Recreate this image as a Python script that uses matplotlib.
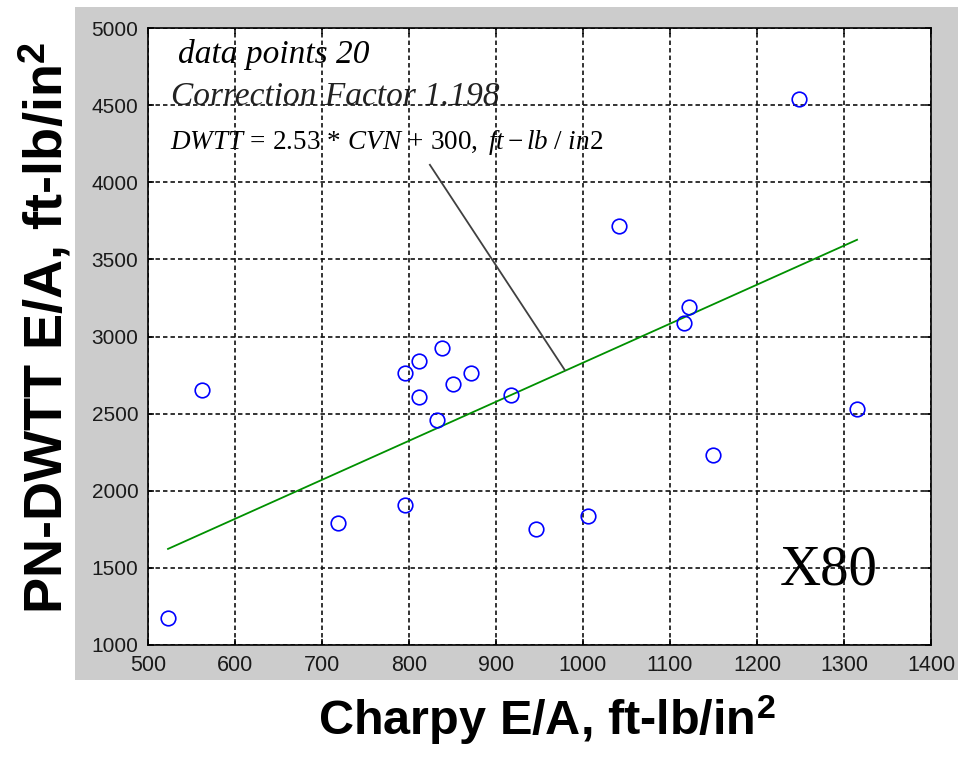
import matplotlib
matplotlib.use("Agg")
import matplotlib.pyplot as plt
from matplotlib.patches import Rectangle

# ---- data ----
charpy = [523, 562, 718, 795, 795, 811, 811, 832, 838, 850,
          871, 917, 946, 1006, 1041, 1116, 1122, 1149, 1248, 1315]
dwtt = [1173, 2654, 1789, 1906, 2762, 2840, 2608, 2459, 2924, 2691,
        2762, 2621, 1754, 1837, 3719, 3086, 3194, 2232, 4539, 2528]

fit_x = [523, 1315]
fit_y = [1623, 3627]

pointer_x = [824, 979]
pointer_y = [4113, 2783]

x_ticks = [500, 600, 700, 800, 900, 1000, 1100, 1200, 1300, 1400]
y_ticks = [1000, 1500, 2000, 2500, 3000, 3500, 4000, 4500, 5000]

text_points = "data points 20"
text_factor = "Correction Factor 1.198"
text_eq = r"$DWTT\,=\,2.53\,*\,CVN\,+\,300,\ ft-lb\ /\ \mathit{in2}$"
text_grade = "X80"
xlabel = r"Charpy E/A, ft-lb/in$^\mathbf{2}$"
ylabel = r"PN-DWTT E/A, ft-lb/in$^\mathbf{2}$"

# ---- style ----
plt.rcParams['mathtext.fontset'] = 'custom'
plt.rcParams['mathtext.rm'] = 'Liberation Serif'
plt.rcParams['mathtext.it'] = 'Liberation Serif:italic'
plt.rcParams['mathtext.bf'] = 'Liberation Sans:bold'
plt.rcParams['lines.scale_dashes'] = False

W, H = 958, 758
fig = plt.figure(figsize=(W / 100, H / 100), dpi=100)
fig.patch.set_facecolor('white')

# grey MATLAB-like panel
fig.patches.append(Rectangle((75 / W, 1 - 680 / H), (958 - 75) / W, (680 - 7) / H,
                             transform=fig.transFigure, facecolor='#cccccc',
                             edgecolor='none', zorder=-5))

ax = fig.add_axes([148 / W, 1 - 645 / H, (931 - 148) / W, (645 - 28) / H])
ax.set_zorder(2)
ax.set_facecolor('white')
ax.set_xlim(500, 1400)
ax.set_ylim(1000, 5000)
ax.set_xticks(x_ticks)
ax.set_yticks(y_ticks)
ax.set_axisbelow('line')
ax.grid(True, color='#111111', linestyle=(0, (3.2, 2.2)), linewidth=1.2)
for s in ax.spines.values():
    s.set_color('black')
    s.set_linewidth(1.2)
ax.tick_params(direction='in', length=4.5, width=1.1, top=True, right=True,
               labelsize=15, colors='black', pad=7)
for lab in ax.get_xticklabels() + ax.get_yticklabels():
    lab.set_fontfamily('Liberation Sans')
    lab.set_color('#1a1a1a')
for lab in ax.get_xticklabels():
    lab.set_fontsize(15.5)

ax.plot(fit_x, fit_y, color='#009000', linewidth=1.3, zorder=2)
ax.plot(pointer_x, pointer_y, color='#404040', linewidth=1.3, zorder=2)
ax.plot(charpy, dwtt, linestyle='none', marker='o', markersize=10.5,
        markerfacecolor='none', markeredgecolor='#0000ff', markeredgewidth=1.2,
        zorder=3)

serif = 'Liberation Serif'
ax.text(534, 4826, text_points, fontsize=24, fontstyle='italic', family=serif,
        va='center', ha='left', zorder=1)
ax.text(527, 4554, text_factor, fontsize=24, fontstyle='italic', family=serif,
        va='center', ha='left', zorder=1, color='#222222')
ax.text(525, 4255, text_eq, fontsize=19.5, va='center', ha='left', zorder=1)
ax.text(1226, 1486, text_grade, fontsize=41, family=serif, va='center',
        ha='left', zorder=1)

fig.text(547 / W, 1 - 720 / H, xlabel, fontsize=35, fontweight='bold',
         family='Liberation Sans', ha='center', va='center')
fig.text(45 / W, 1 - 328 / H, ylabel, fontsize=39, fontweight='bold',
         family='Liberation Sans', ha='center', va='center', rotation=90)

fig.savefig('out.png', dpi=100, facecolor='white')
